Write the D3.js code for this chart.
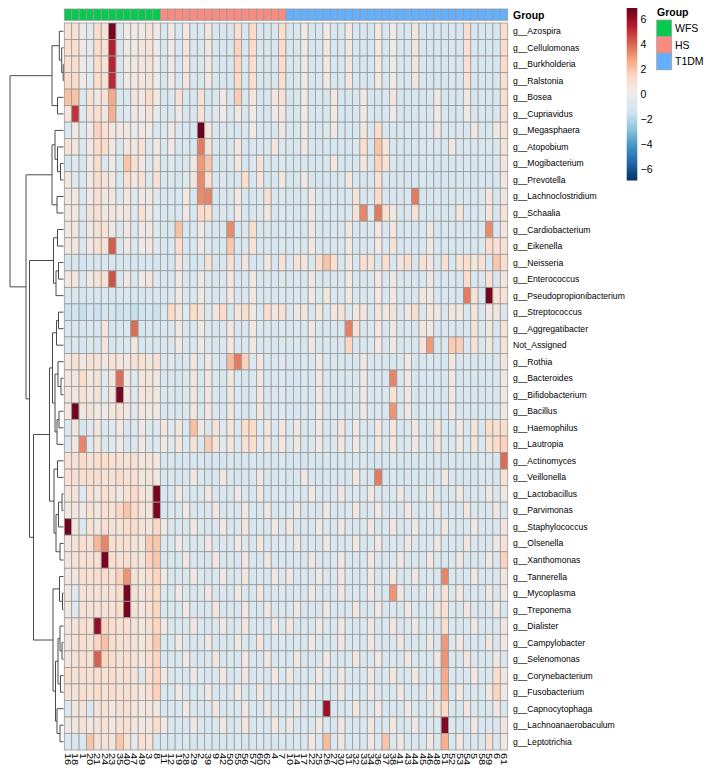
<!DOCTYPE html>
<html><head><meta charset="utf-8">
<script src="https://cdn.jsdelivr.net/npm/d3@7"></script>
<style>body{margin:0;background:#fff;} svg{display:block;font-family:"Liberation Sans",Arial,sans-serif;}</style>
</head><body><svg id="chart" width="711" height="774"></svg>
<script>
const genera = ["g__Azospira","g__Cellulomonas","g__Burkholderia","g__Ralstonia","g__Bosea","g__Cupriavidus","g__Megasphaera","g__Atopobium","g__Mogibacterium","g__Prevotella","g__Lachnoclostridium","g__Schaalia","g__Cardiobacterium","g__Eikenella","g__Neisseria","g__Enterococcus","g__Pseudopropionibacterium","g__Streptococcus","g__Aggregatibacter","Not_Assigned","g__Rothia","g__Bacteroides","g__Bifidobacterium","g__Bacillus","g__Haemophilus","g__Lautropia","g__Actinomyces","g__Veillonella","g__Lactobacillus","g__Parvimonas","g__Staphylococcus","g__Olsenella","g__Xanthomonas","g__Tannerella","g__Mycoplasma","g__Treponema","g__Dialister","g__Campylobacter","g__Selenomonas","g__Corynebacterium","g__Fusobacterium","g__Capnocytophaga","g__Lachnoanaerobaculum","g__Leptotrichia"];
const samples = ["16","18","1","20","21","24","23","35","40","47","49","3","8",
 "11","12","19","28","29","2","39","9","42","50","55","56","57","60","62","4","7",
 "10","14","17","22","25","26","27","30","31","32","33","34","36","37","38","41","43","44","45","46","48","51","52","53","54","5","58","59","6","61"];
const groupNames = ["WFS","HS","T1DM"];
const groupSizes = [13,17,30];
const groupColors = ["#06C94F","#F98B80","#62B0FE"];
const legendTicks = [6,4,2,0,-2,-4,-6];
const colorDomain = [-6.9, 6.9];
const palette = ["#053061","#2166AC","#4393C3","#92C5DE","#D1E5F0","#EBEBEB","#FDDBC7","#F4A582","#D6604D","#B2182B","#67001F"];

const values = [
[.9,.9,.2,-.7,1.2,.9,6.6,-.85,.2,.2,.2,.75,.2, -1,.2,-1,.35,-1,-1,.55,-1,-1,-1,1.1,-1,1.3,-1,-1,-1,1.2, -1.15,-1,.35,-1,-1,.2,-1,-1,.35,-1,-1.15,-1,.35,-1,.2,-1,-1,.55,-1,-1.15,-1,-1,-1,-1,1.1,-1,-1,-1,-1,1.1],
[1.1,1.2,.2,-.5,1.3,.9,5.4,-1,.2,.2,.55,.9,0, -1,.2,-1,.55,-1,-1,.35,-1,-1,-1,1.6,-1,1.3,-1,-1,-1,1.3, -1.15,-1,.2,-1,-1,.35,-1,-1,.55,-1,-1.15,-1,.35,-1,.2,-1,-1,.55,-1,-1.15,-1,-1,-1,-1,1,-1,-1,-1,-1,1.2],
[1,1.2,.2,-.5,1.2,.9,5.3,-1,.2,.35,.55,.75,0, -1,.2,-1,.55,-1,-1,.35,-1,-1,-1,1.5,-1,1.2,-1,-1,-1,1.3, -1.15,-1,.2,-1,-1,.35,-1,-1,.55,-1,-1.15,-1,.35,-1,.2,-1,-1,.55,-1,-1.15,-1,-1,-1,-1,1,-1,-1,-1,-1,1.3],
[1.3,1.3,.2,-.5,1.2,.9,5.2,-1,.2,.35,.55,.75,0, -1,.2,-1,.55,-1,-1,.35,-1,-1,-1,1.4,-1,1.2,-1,-1,-1,1.1, -1.15,-1,.2,-1,-1,.35,-1,-1,.55,-1,-1.15,-1,.35,-1,.2,-1,-1,.55,-1,-1.15,-1,-1,-1,-1,.9,-1,-1,-1,-1,1],
[2.1,2,-.85,.75,.35,.9,2.6,-1,-.85,.55,.35,1.4,.35, -1.15,-.85,.9,-1,-1,.75,-1.15,-1,.35,-1,1.8,-1,.55,-1.15,-1,.55,1, -1.3,-1.15,.35,-1.15,-1,-1.15,.55,-1.15,-1.15,-1,.35,-1.15,-1.15,-1,.55,-1.15,-1.15,-1,-1.15,-1,.35,-1.15,-1.15,-1,.35,-1.15,-1,-1.15,-1.15,1.1],
[.55,5,-.7,.75,1.2,.35,2.5,-.85,-.7,.35,.2,.75,-.2, -1,-.85,.2,-1,-1,.9,-1,-.7,.2,-1,.35,-1,.2,-1,-1,.2,.55, -1.15,-1.15,.2,-1,-1,-1,.35,-1,-1.15,-1,.35,-1,-1.15,-1,.2,-1,-1.15,-1,-1,-1,.2,-1,-1.15,-1,.2,-1,-1,-1.15,-1,1],
[-.85,.35,-.7,.2,1.6,1,.55,.35,.35,-.2,.35,.2,-.85, -.85,.35,-.85,-1,-.85,6.8,.55,-1,-.85,-1,-1,-.85,.2,-1,-.85,-1,.35, -1,-1,.2,-1,-1,-.85,.35,-1,-1,-1,.55,-1,1.2,-1,-1,-1,-.85,-1,-1,-.85,.35,-1,-1,-.85,-1,.35,-1,-1,.35,.9],
[.75,.55,-.85,.35,1.3,1.3,.35,-1,.55,.35,.9,-.85,.35, -1,.2,-1,-.85,-1,3.6,.75,-.85,-1,-1,.55,-1,-.85,-1,-1,.55,-.85, -1.15,-1,.55,-1,-1.15,-1,-1,-1,-1,-.85,1.2,-1,2,.55,-1,-1,-1.15,-1,-1,-.85,-1,-1,.35,-1,-1,-1,-.85,-1,-1,.75],
[-1.15,-.7,-1.15,.35,1.2,-.85,.2,-1,2,1,.35,-1,.55, -1.15,-.7,-1.15,-1,.35,3,2,-1,-1.15,-.85,.35,-1.15,-.85,.75,-1.15,-1,-.85, -1.15,-1.15,-.85,-1.15,-1.15,-1,.55,-1.15,-1.15,-1,.55,-1,1.6,.9,-1,-1.15,-1.15,-1,-1.15,-.85,-1.15,-1,-1.15,-1,-.85,-1.15,-1,-1.15,-1,.55],
[.55,-.7,-.85,.35,1.2,.75,.35,-1,1,.35,.9,-.85,.9, -1,-.85,-1.15,-.7,.55,3.3,1.1,-1,-.85,-1.15,-.85,1.2,-1,.55,-1.15,-1,.35, -1.15,-1.15,.35,-1,-1.15,-1.15,-1,-1,.55,-1,-1.15,-1,.9,-1,-1.15,-1.15,-1,-1,-.85,-1.15,-1.15,-1,-1.15,-1,-1,-1.15,-1,-1.15,-1.15,.55],
[.35,.35,-.85,.2,1,.35,.55,-.85,.55,-.7,.2,.35,-.7, -1,-.85,-1,.35,-1,3.3,3.4,-1,-.85,-1,.35,-1,-1,-.85,1,-1,-.85, -1,-1,-.85,.35,-1,-1,-.85,-1,-.85,.75,-1,-.85,1.3,-1,-1,-1,-.85,3.6,-1,-1,-.85,-1,-1,-.85,-1,-1,-.85,.55,-1,.55],
[.55,.35,-.85,.75,1,.35,.55,.35,.55,-.7,.75,.2,-.5, -1,-.85,-1,.35,-1,1.3,1.2,-1,-.85,-1,.35,-1,-1,-.85,.35,-1,-.85, -1,-1,-.85,.35,-1,-1,-.85,-1,-.85,.75,3.4,-.85,3.6,1,.55,-1,-.85,.9,-1,-1,-.85,-1,-1,.55,-1,-1,-.85,.55,-1,.9],
[.35,.55,-.85,.35,.75,.75,.35,-.85,.35,-.85,.2,.35,-.7, -1,-.85,2.1,-1,-1,.35,-.85,-1,-.85,3.3,-1,-.85,1.1,-1,-.85,-1,-.85, -1,-.85,-1,.35,-1,-1,-.85,-1,.55,-1,-1,-.85,.35,-1,.55,-1,-.85,-1,-1,.35,-1,-.85,-1,-1,-.85,-1,-.85,3.3,-1,.55],
[.35,.55,-.85,.35,.9,.75,4.2,-.85,.35,-.85,.2,.55,-.7, -1,-.85,1.2,-1,-1,.35,-.85,-1,-.85,1.9,-1,-.85,.9,-1,-.85,-1,-.85, -1,-.85,-1,.35,-1,-1,-.85,-1,.35,-1,-1,-.85,.35,-1,.75,-1,-.85,-1,-1,.35,-1,-.85,-1,-1,-.85,-1,-.85,1.2,1,.9],
[-1.15,-1.15,-1.3,-1,-1.15,-.85,-1.15,-1.15,-1,-1.15,-1.3,-1,-1.15, -1,-1.15,.55,-1,-1.15,-1,.75,-1.15,-1,1,-1.15,.55,-1,-1.15,.55,-1,.75, -1,.9,.55,-1,1.1,2,1.1,-1,.55,-1,1,.75,-1,1.2,-1,.55,1.1,-1,.9,.55,-1,1,-1,.75,1.2,.55,.9,-1,1.9,1],
[.35,.55,-.85,.35,.9,.75,4.4,-.85,.35,-.85,.2,.55,-.7, -1,-.85,.35,-1,-1,.35,-.85,-1,-.85,.35,-1,-.85,.35,-1,-.85,-1,-.85, -1,-.85,-1,.35,-1,-1,-.85,-1,.35,-1,-1,-.85,.35,-1,.35,-1,-.85,-1,-1,.35,-1,-.85,-1,-1,1.3,-1,-.85,.9,-1,.55],
[-1,-.85,-1.15,-.85,-1,-.85,-1.15,-1,-.85,-1,-1.15,-.85,-1, -1,-.85,.35,-1,-1,.35,-.85,-1,-.85,.35,-1,-.85,.35,-1,-.85,-1,-.85, -1,-.85,-1,.35,-1,.55,-.85,-1,.35,-1,-1,-.85,.35,-1,.35,-1,-.85,-1,.55,.35,-1,-.85,-1,-1,3.6,.75,-.85,6.6,.9,.75],
[-1.5,-1.4,-1.6,-1.3,-1.5,-1.15,-1.4,-1.5,-1.3,-1.6,-1.4,-1.3,-1.5, -.85,1.3,.55,-.7,1.2,.75,-.85,.55,1.3,-1,.55,1.1,.35,-.85,1.2,.55,1, -.85,.35,.55,-1,.55,-.85,.35,.75,-.85,.35,.55,-1,.55,.35,.75,-.85,.35,1.1,-.85,.55,.35,-1,.55,.35,-.85,.55,-1,.35,.55,-.85],
[-1,-.85,-1.15,-.85,-1,.55,-1.15,-1,-.85,3.9,-1.15,-.85,-1, -1,-.85,.35,-1,-1,.35,-.85,-1,-.85,.35,-1,-.85,.35,-1,-.85,-1,-.85, -1,-.85,-1,.35,-1,-1,-.85,-1,3.5,1,-1,-.85,.35,-1,.35,-1,-.85,-1,.55,.35,-1,-.85,-1,-1,-.85,.75,-.85,.35,-1,.75],
[-1,-.85,-1.15,-.85,-1,.55,-1.15,-1,-.85,.35,-1.15,-.85,-1, -1,-.85,.35,-1,-1,.35,-.85,-1,-.85,.35,-1,-.85,.35,-1,-.85,-1,-.85, -1,-.85,-1,.35,-1,-1,-.85,-1,1.5,-1,-1,-.85,.35,-1,.35,-1,-.85,-1,.55,3,-1,-.85,1.8,1.7,-.85,.75,-.85,.35,-1,.75],
[.55,.9,.35,1,.75,.35,.9,.55,.35,.75,1,.55,.9, -.85,-.7,-1,-.85,.55,-1,.35,-.85,-1,2.2,3.6,1.6,-.85,.55,-1,-.85,-.7, -1,-1,-.85,-1,.35,-1,-1,-.85,-1,-1,.35,-1,-.85,-1,-1,-.85,.35,-1,-1,-.85,-1,-1,.35,-1,-.85,-1,-1,-.85,-1,.55],
[.55,.35,1.3,.35,.75,-.7,.55,3.9,.35,-.7,.55,.75,.35, -1,-.85,-1,-.85,.55,-1,.35,-.85,-1,.35,-.85,-1,-.85,.55,-1,-.85,-.7, -1,-1,-.85,-1,.35,-1,-1,-.85,-1,-1,.35,-1,-.85,-1,3.4,-.85,.35,-1,-1,-.85,-1,-1,.35,-1,-.85,-1,-1,-.85,-1,.35],
[.55,.35,.9,.35,.75,-.7,.55,6.6,.35,-.7,.55,.75,.35, -1,-.85,-1,-.85,.55,-1,.35,-.85,-1,.35,-.85,-1,-.85,.55,-1,-.85,-.7, -1,-1,-.85,-1,.35,-1,-1,-.85,-1,-1,.35,-1,-.85,-1,.9,-.85,.35,-1,-1,-.85,-1,-1,.35,-1,-.85,-1,-1,-.85,-1,.35],
[.55,6.7,.35,.75,.35,.2,.55,.9,.35,-.7,.55,.35,.35, -1,-.85,-1,-.85,.55,-1,.35,-.85,-1,.35,-.85,-1,-.85,.55,-1,-.85,-.7, -1,-1,-.85,-1,.35,-1,-1,-.85,-1,-1,.35,-1,-.85,-1,3.1,-.85,.35,-1,-1,-.85,-1,-1,.35,-1,-.85,-1,-1,-.85,-1,.35],
[-.85,.55,-1,-.7,.55,-.85,-.7,.35,-1,-.85,.35,-.85,-.7, .55,-.7,.55,-.85,2.1,.35,-.85,.75,-.7,.55,-.85,1.2,1.3,-.7,.55,-.85,.35, -.85,.35,-1,-.85,.35,-1,-.85,.55,-1,.35,-.85,-1,.35,-.85,.55,-1,-.85,.35,-.85,-1,.55,-.85,-1,.35,-.85,.55,-1,1.2,1,1.2],
[-.85,.55,3.4,-.7,.55,-.85,-.7,.35,-1,-.85,.35,-.85,-.7, .35,-.7,.55,-.85,.9,-.85,1.8,.75,-.7,.55,-.85,.75,1.2,-.7,.55,-.85,.35, -.85,.35,-1,-.85,.35,-1,-.85,.55,-1,.35,-.85,-1,.35,-.85,.55,-1,-.85,.35,-.85,-1,.55,-.85,-1,.35,-.85,.55,-1,.9,1.3,1.6],
[1,.9,1.3,.75,1.2,1.2,1,.9,.75,1,.55,.9,.35, -1.15,-.85,-1.15,-1,-1.15,-.85,-1.15,-1,-1.15,-.85,-1.15,-1,-.85,-1.15,-1,-1.15,-.85, -1.15,-1,-1.15,-.85,-1.15,-1,-1.15,-.85,-1.15,-1,-.85,-1.15,-1,-1.15,-.85,-1.15,-1,-1.15,-.85,-1.15,-1,-1.15,-.85,-1.15,-1,-1.15,-.85,-1,-1.15,3.9],
[.9,1,1,1.2,1.1,.9,.75,1.3,.9,1,.55,.75,.35, -1,-.85,-1.15,-1,.35,-.85,-1.15,-1,.55,-.85,-1.15,-1,-.85,.35,-1,-1.15,-.85, -1.15,-1,.35,-.85,-1.15,-1,-1.15,-.85,-1.15,.55,-.85,-1.15,3.6,-1.15,-.85,-1.15,-1,-1.15,-.85,-1.15,-1,.35,-.85,-1.15,-1,-1.15,-.85,-1,-1.15,.9],
[.55,.75,-.7,.9,.55,1,.75,.35,.9,1.3,.75,.55,6.6, -.85,-1,.35,-.85,-1,-.85,.35,-1,-.85,-1,.35,-.85,-1,.55,-1,-.85,-.7, -1,-.85,-1,.35,-.85,-1,-.85,.35,-1,-.85,-1,.35,-.85,-1,-.85,.35,-1,-.85,-1,.35,-.85,-1,-.85,.35,-1,-.85,-1,.35,-.85,.35],
[.35,.55,.35,.9,.55,1,.75,1.5,2,1.3,.75,.55,6.5, -1,-.85,-1,.35,-.85,-1,-.85,.55,-1,-.85,-1,.35,-.85,-1,.35,-1,-.85, -.85,.35,-1,-.85,-1,.35,-.85,-1,-.85,.55,-1,-.85,.35,-1,-.85,-1,.35,-.85,-1,-.85,.35,-1,-.85,-1,.55,-.85,-1,-.85,.35,-1],
[6.7,.55,-.85,.9,.55,1,.75,.9,1.2,1.2,.75,.55,1.4, .35,-1,-.85,-1,.35,-.85,-1,-.85,.35,-1,-.85,.55,-1,-.85,-1,.35,-.85, .35,-1,-.85,-1,.35,-.85,-1,.35,-.85,-1,-.85,.35,-1,-.85,.55,-1,-.85,.35,-1,-.85,-1,.35,-.85,-1,-.85,.35,-1,-.85,-1,.55],
[.55,.75,1,.9,2.3,3.4,1.2,.9,1,.75,.55,1.8,1.9, -.85,-1,.35,-.85,-1,-.85,.35,-1,-.85,-1,.35,-.85,-1,.55,-1,-.85,-.7, -.85,.35,-1,-.85,-1,.35,-.85,-1,-.85,.55,-1,-.85,.35,-1,-.85,-1,.35,-.85,-1,-.85,.35,-1,-.85,-1,.55,-.85,-1,-.85,.35,.75],
[.55,.75,1,.9,1,6.6,1.2,.9,1,.75,.55,1.6,1.9, -1,-.85,-1,.35,-.85,-1,-.85,.55,-1,-.85,-1,.35,-.85,-1,.35,-1,-.85, -1,-.85,-1,.35,-.85,-1,-.85,.35,-1,-.85,-1,.35,-.85,-1,-.85,.35,-1,-.85,-1,.35,-.85,-1,-.85,.35,-1,-.85,-1,.35,-.85,1.6],
[.35,.55,1,.9,1.1,1.2,.9,1.6,3.1,.75,.55,1,1.5, .35,-1,-.85,-1,.35,-.85,-1,-.85,.35,-1,-.85,.55,-1,-.85,-1,.35,-.85, .35,-1,-.85,-1,.35,-.85,-1,.35,-.85,-1,-.85,.35,-1,-.85,.55,-1,-.85,.35,-1,-.85,-1,3.4,-.85,-1,-.85,.35,-1,-.85,-1,.55],
[.35,-.7,.75,.9,.9,.75,.9,1.2,6.6,.75,.55,1,1.3, -.85,-1,.35,-.85,-1,-.85,.35,-1,-.85,-1,.35,-.85,-1,.55,-1,-.85,-.7, -1,-.85,-1,.35,-.85,-1,-.85,.35,-1,-.85,-1,.35,-.85,-1,3.1,.35,-1,-.85,-1,.35,-.85,.9,-.85,.35,-1,-.85,-1,.35,-.85,.35],
[.35,-.7,.75,.9,.9,.75,.9,1.2,6.6,.75,.55,1,1.5, -1,-.85,-1,.35,-.85,-1,-.85,.55,-1,-.85,-1,.35,-.85,-1,.35,-1,-.85, -.85,.35,-1,-.85,-1,.35,-.85,-1,-.85,.55,-1,-.85,.35,-1,-.85,-1,.35,-.85,-1,-.85,.35,1,-.85,-1,.55,-.85,-1,-.85,.35,-1],
[.55,.75,1,.9,6.1,1.5,1.2,.9,1,.75,.55,1,1.5, .35,-1,-.85,-1,.35,-.85,-1,-.85,.35,-1,-.85,.55,-1,-.85,-1,.35,-.85, .35,-1,-.85,-1,.35,-.85,-1,.35,-.85,-1,-.85,.35,-1,-.85,.55,-1,-.85,.35,-1,-.85,-1,1.1,-.85,-1,-.85,.35,-1,-.85,-1,.55],
[.55,.75,1,.9,1.5,2.1,1.2,.9,1,.75,.55,1,1.8, -.85,-1,.35,-.85,-1,-.85,.35,-1,-.85,-1,.35,-.85,-1,.55,-1,-.85,-.7, -1,-.85,-1,.35,-.85,-1,-.85,.35,-1,-.85,-1,.35,-.85,-1,-.85,.35,-1,-.85,-1,.35,-.85,3,-.85,.35,-1,-.85,-1,.35,-.85,.35],
[.55,.75,1,.9,4.1,1.5,1.2,.9,1,.75,.55,1,1.5, -1,-.85,-1,.35,-.85,-1,-.85,.55,-1,-.85,-1,.35,-.85,-1,.35,-1,-.85, -.85,.35,-1,-.85,-1,.35,-.85,-1,-.85,.55,-1,-.85,.35,-1,-.85,-1,.35,-.85,-1,-.85,.35,3.1,-.85,-1,.55,-.85,-1,-.85,.35,-1],
[1.2,.75,1,.9,1.2,.9,1.2,.9,1,.75,-.85,1,1.5, .35,-1,-.85,-1,.35,-.85,-1,-.85,.35,-1,-.85,.55,-1,-.85,-1,.35,-.85, .35,-1,-.85,-1,.35,-.85,-1,.35,-.85,-1,-.85,.35,-1,-.85,.55,-1,-.85,.35,-1,-.85,-1,2.6,-.85,-1,-.85,.35,-1,-.85,1.2,.55],
[.75,.75,1,.9,1.2,.9,1.2,.9,1,.75,.55,1,1.6, -.85,-1,.35,-.85,-1,-.85,.35,-1,-.85,-1,.35,-.85,-1,.55,-1,-.85,-.7, -1,-.85,-1,.35,-.85,-1,-.85,.35,-1,-.85,-1,.35,-.85,-1,-.85,.35,-1,-.85,-1,.35,-.85,2.4,-.85,.35,-1,-.85,-1,.35,1.5,.35],
[-.85,.55,.75,-.85,.75,.9,.55,.75,1,.55,.35,.55,.35, -1,-.85,-1,.35,-.85,-1,-.85,.55,-1,-.85,-1,.35,-.85,-1,.35,-1,-.85, -.85,.35,-1,-.85,-1,5.9,-.85,-1,-.85,.55,-1,-.85,.35,-1,-.85,-1,.35,-.85,-1,-.85,.35,1.4,-.85,-1,.55,-.85,-1,-.85,.35,-1],
[.35,.55,.75,.35,.75,.9,.55,.75,1,.55,.35,.55,1.2, .35,-1,-.85,-1,.35,-.85,-1,-.85,.35,-1,-.85,.55,-1,-.85,-1,.35,-.85, .35,-1,-.85,-1,.35,-.85,-1,.35,-.85,-1,-.85,.35,-1,-.85,.55,-1,-.85,.35,-1,-.85,-1,6.4,-.85,-1,-.85,.35,-1,-.85,-1,.55],
[-.85,-1,-1,2,.9,.75,.55,1.9,.75,-.35,1,.9,-1, -1,-1.15,-1,-.85,-1.15,-1,-.85,-1.15,-1,-1,-.85,-1.15,-1,-.85,-1,-1.15,-.85, -1,-.85,-1,.35,-.85,2.2,-.85,.35,-1,-.85,-1,.35,-.85,2,-.85,.35,-1,-.85,-1,.35,-.85,2.5,-.85,.35,-1,-.85,-1,1,-.85,.35]
];

// hclust-style merges: negative = leaf (row number), positive = earlier merge; third value = height
const merges = [
 [-3,-4,0.3],[-2,1,1.8],[-1,2,4.2],[-5,-6,6],[3,4,11.5],
 [-9,-10,3],[-8,6,6],[-7,7,8.5],[-11,-12,6.5],[8,9,11.5],
 [-13,-14,6],[-15,-16,5],[12,-17,7.5],[11,13,10],
 [-18,-19,5],[15,-20,7],[-22,-23,2.5],[-21,17,5.5],[-24,-25,4.5],[19,-26,6.5],[18,20,8.5],[16,21,11],
 [-27,-28,6],[-29,-30,1.5],[24,-31,5],[-32,-33,3.5],[25,26,7.5],[23,27,9.5],
 [-35,-36,1],[-34,29,4],[-38,-39,1.5],[-37,31,3.5],[-40,-41,3],[32,33,5.5],[-43,-44,3.5],[-42,35,6.5],[34,36,8],[30,37,10.5],
 [22,28,14],[39,38,30],[14,40,34],[10,41,37.5],[5,42,53.5]
];

const svg = d3.select("#chart");
const sampleGroup = [];
groupNames.forEach((g,k)=>{ for(let n=0;n<groupSizes[k];n++) sampleGroup.push(g); });
const groupColor = d3.scaleOrdinal().domain(groupNames).range(groupColors);

const x = d3.scaleBand().domain(d3.range(samples.length)).range([64.3, 507.7]);
const y = d3.scaleBand().domain(d3.range(genera.length)).range([23, 750]);
const color = d3.scaleLinear()
  .domain(palette.map((c,i)=> colorDomain[0] + i*(colorDomain[1]-colorDomain[0])/(palette.length-1)))
  .range(palette).clamp(true);

// heatmap cells
const cells = [];
values.forEach((row,i)=>row.forEach((v,j)=>cells.push({i,j,v})));
svg.append("g").selectAll("rect").data(cells).join("rect")
  .attr("x",d=>x(d.j)).attr("y",d=>y(d.i))
  .attr("width",x.bandwidth()).attr("height",y.bandwidth())
  .attr("fill",d=>color(d.v))
  .attr("stroke","#999").attr("stroke-width",0.8);

// group annotation bar
svg.append("g").selectAll("rect").data(samples).join("rect")
  .attr("x",(d,j)=>x(j)).attr("y",9).attr("width",x.bandwidth()).attr("height",11.3)
  .attr("fill",(d,j)=>groupColor(sampleGroup[j]))
  .attr("stroke","#999").attr("stroke-width",0.8);
svg.append("text").attr("x",513).attr("y",18.5).attr("font-size",10.5).attr("font-weight","bold").text("Group");

// row labels
svg.append("g").selectAll("text").data(genera).join("text")
  .attr("x",513).attr("y",(d,i)=>y(i)+y.bandwidth()/2).attr("dy","0.35em")
  .attr("font-size",8.6).text(d=>d);

// column labels (rotated, reading top to bottom)
svg.append("g").selectAll("text").data(samples).join("text")
  .attr("transform",(d,j)=>`translate(${x(j)+x.bandwidth()/2},753) rotate(90) scale(1.25,1)`)
  .attr("dy","0.35em").attr("font-size",8.8).text(d=>d);

// dendrogram
const hx = d3.scaleLinear().domain([0, d3.max(merges,m=>m[2])]).range([63.5, 10]);
const nodes = [];
const pos = r => r<0 ? {x:hx(0), y:y(-r-1)+y.bandwidth()/2} : nodes[r-1];
const dg = svg.append("g").attr("fill","none").attr("stroke","#4a4a4a").attr("stroke-width",1);
merges.forEach(([a,b,h])=>{
  const pa=pos(a), pb=pos(b), nx=hx(h);
  nodes.push({x:nx, y:(pa.y+pb.y)/2});
  dg.append("path").attr("d",`M${pa.x},${pa.y}H${nx}V${pb.y}H${pb.x}`);
});

// colour legend
const ly = d3.scaleLinear().domain(colorDomain).range([180.5, 8]);
const defs = svg.append("defs");
const grad = defs.append("linearGradient").attr("id","lg").attr("x1",0).attr("y1",1).attr("x2",0).attr("y2",0);
palette.forEach((c,i)=>grad.append("stop").attr("offset",i/(palette.length-1)).attr("stop-color",c));
svg.append("rect").attr("x",626.7).attr("y",ly(colorDomain[1])).attr("width",10.6)
  .attr("height",ly(colorDomain[0])-ly(colorDomain[1])).attr("fill","url(#lg)");
svg.append("g").selectAll("text").data(legendTicks).join("text")
  .attr("x",640.5).attr("y",d=>ly(d)).attr("dy","0.35em").attr("font-size",10.5)
  .text(d=> d<0 ? "\u2212"+Math.abs(d) : String(d));

// group legend
svg.append("text").attr("x",657).attr("y",15.5).attr("font-size",10.5).attr("font-weight","bold").text("Group");
const gl = svg.append("g").selectAll("g").data(groupNames).join("g");
gl.append("rect").attr("x",656.7).attr("y",(d,k)=>20+k*16.6).attr("width",15).attr("height",16.6)
  .attr("fill",d=>groupColor(d)).attr("stroke","#a0a0a0").attr("stroke-width",0.8);
gl.append("text").attr("x",675).attr("y",(d,k)=>20+k*16.6+8.3).attr("dy","0.35em").attr("font-size",10.5).text(d=>d);
</script></body></html>
